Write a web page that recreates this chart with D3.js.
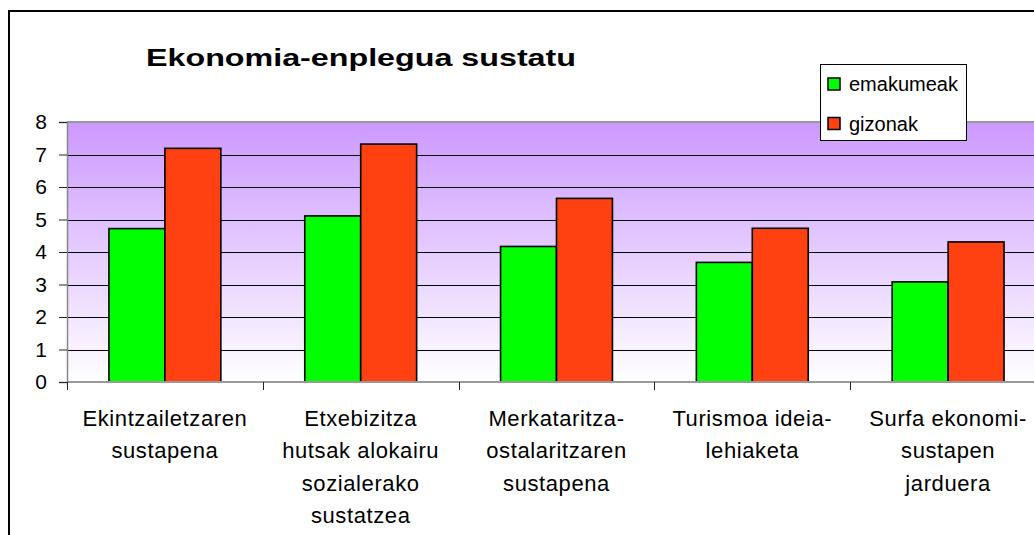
<!DOCTYPE html>
<html>
<head>
<meta charset="utf-8">
<script src="https://cdn.jsdelivr.net/npm/d3@7"></script>
<style>
  body { margin: 0; background: #ffffff; }
  svg { display: block; font-family: "Liberation Sans", Arial, sans-serif; }
</style>
</head>
<body>
<div id="chart"></div>
<script>
// Chart data
var categories = [
  ["Ekintzailetzaren", "sustapena"],
  ["Etxebizitza", "hutsak alokairu", "sozialerako", "sustatzea"],
  ["Merkataritza-", "ostalaritzaren", "sustapena"],
  ["Turismoa ideia-", "lehiaketa"],
  ["Surfa ekonomi-", "sustapen", "jarduera"]
];
var seriesNames = ["emakumeak", "gizonak"];
var emakumeak = [4.72, 5.11, 4.17, 3.68, 3.08];
var gizonak = [7.19, 7.32, 5.65, 4.73, 4.31];
var yTicks = [0, 1, 2, 3, 4, 5, 6, 7, 8];
var seriesColors = ["#00FF00", "#FF4010"];

// Define SVG area size
var svgWidth = 1034;
var svgHeight = 535;

// Plot area (runs past the right edge like the original)
var plot = { left: 67, top: 122, width: 979, height: 260 };

var svg = d3.select("#chart")
  .append("svg")
  .attr("width", svgWidth)
  .attr("height", svgHeight);

// gradient for the plot background
var defs = svg.append("defs");
var grad = defs.append("linearGradient")
  .attr("id", "bgGrad")
  .attr("x1", 0).attr("y1", 0)
  .attr("x2", 0).attr("y2", 1);
grad.append("stop").attr("offset", "0%").attr("stop-color", "#CC99FF");
grad.append("stop").attr("offset", "100%").attr("stop-color", "#FFFFFF");

// outer chart frame
svg.append("rect")
  .attr("x", 9)
  .attr("y", 11)
  .attr("width", 1200)
  .attr("height", 700)
  .attr("fill", "none")
  .attr("stroke", "#000")
  .attr("stroke-width", 2);

// title
svg.append("text")
  .attr("x", 146)
  .attr("y", 66)
  .attr("font-size", 24)
  .attr("font-weight", "bold")
  .attr("textLength", 430)
  .attr("lengthAdjust", "spacingAndGlyphs")
  .text("Ekonomia-enplegua sustatu");

var chartGroup = svg.append("g")
  .attr("transform", `translate(${plot.left}, ${plot.top})`);

// scales
var x0 = d3.scaleBand()
  .domain(d3.range(categories.length))
  .range([0, plot.width])
  .padding(0);

var x1 = d3.scaleBand()
  .domain(seriesNames)
  .range([0, x0.bandwidth()])
  .paddingInner(0)
  .paddingOuter(0.75);

var yLinearScale = d3.scaleLinear()
  .domain([0, 8])
  .range([plot.height, 0]);

// background
chartGroup.append("rect")
  .attr("x", 0)
  .attr("y", 0)
  .attr("width", plot.width)
  .attr("height", plot.height)
  .attr("fill", "url(#bgGrad)");

// gridlines
chartGroup.append("g")
  .selectAll("line")
  .data(yTicks.filter(d => d > 0 && d < 8))
  .enter()
  .append("line")
  .attr("x1", 0)
  .attr("x2", plot.width)
  .attr("y1", d => Math.round(yLinearScale(d)) + 0.5)
  .attr("y2", d => Math.round(yLinearScale(d)) + 0.5)
  .attr("stroke", "#000")
  .attr("stroke-width", 1);

// top border of plot area
chartGroup.append("line")
  .attr("x1", 0)
  .attr("x2", plot.width)
  .attr("y1", 0)
  .attr("y2", 0)
  .attr("stroke", "#999")
  .attr("stroke-width", 2);

// bars
var seriesData = [emakumeak, gizonak];
seriesNames.forEach(function(name, si) {
  chartGroup.append("g")
    .selectAll("rect")
    .data(seriesData[si])
    .enter()
    .append("rect")
    .attr("x", (d, i) => x0(i) + x1(name))
    .attr("y", d => yLinearScale(d))
    .attr("width", x1.bandwidth())
    .attr("height", d => plot.height - yLinearScale(d))
    .attr("fill", seriesColors[si])
    .attr("stroke", "#000")
    .attr("stroke-width", 1.6);
});

// y axis
var leftAxis = d3.axisLeft(yLinearScale)
  .tickValues(yTicks)
  .tickSize(8)
  .tickPadding(12)
  .tickFormat(d3.format("d"));

var yAxis = chartGroup.append("g")
  .call(leftAxis);
yAxis.select(".domain").attr("stroke", "#888").attr("stroke-width", 1.5);
yAxis.selectAll(".tick line").attr("stroke", "#222");
yAxis.selectAll(".tick text")
  .attr("font-size", 21)
  .attr("font-family", "Liberation Sans, Arial, sans-serif")
  .attr("fill", "#000");

// x axis line and category ticks
chartGroup.append("line")
  .attr("x1", 0)
  .attr("x2", plot.width)
  .attr("y1", plot.height)
  .attr("y2", plot.height)
  .attr("stroke", "#999")
  .attr("stroke-width", 2);

chartGroup.append("g")
  .selectAll("line")
  .data(d3.range(categories.length))
  .enter()
  .append("line")
  .attr("x1", d => Math.round(x0(d)) + 0.5)
  .attr("x2", d => Math.round(x0(d)) + 0.5)
  .attr("y1", plot.height)
  .attr("y2", plot.height + 8)
  .attr("stroke", "#222");

// category labels
var labels = chartGroup.append("g")
  .attr("font-size", 22)
  .attr("letter-spacing", 0.6)
  .attr("text-anchor", "middle");

categories.forEach(function(lines, i) {
  var t = labels.append("text")
    .attr("x", x0(i) + x0.bandwidth() / 2)
    .attr("y", plot.height + 44);
  lines.forEach(function(line, j) {
    t.append("tspan")
      .attr("x", x0(i) + x0.bandwidth() / 2)
      .attr("dy", j === 0 ? 0 : 32.3)
      .text(line);
  });
});

// legend
var legend = svg.append("g")
  .attr("transform", "translate(820, 64)");

legend.append("rect")
  .attr("x", 0.5)
  .attr("y", 0.5)
  .attr("width", 146)
  .attr("height", 76)
  .attr("fill", "#fff")
  .attr("stroke", "#000")
  .attr("stroke-width", 1);

seriesNames.forEach(function(name, i) {
  legend.append("rect")
    .attr("x", 8)
    .attr("y", 14 + i * 39.5)
    .attr("width", 12)
    .attr("height", 12)
    .attr("fill", seriesColors[i])
    .attr("stroke", "#000")
    .attr("stroke-width", 1.5);
  legend.append("text")
    .attr("x", 29)
    .attr("y", 27 + i * 39.5)
    .attr("font-size", 20)
    .text(name);
});
</script>
</body>
</html>
